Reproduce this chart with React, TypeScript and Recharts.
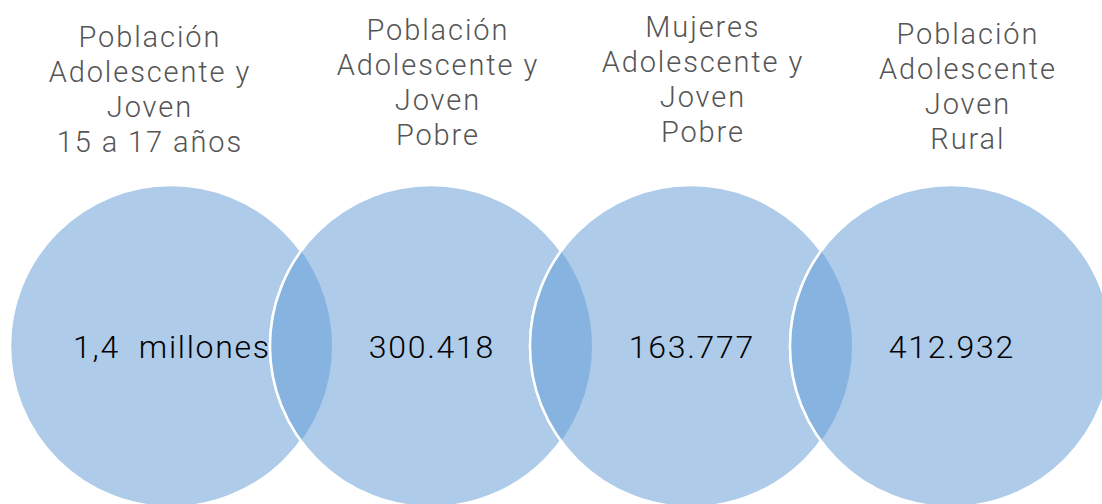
import React from 'react';
import { ScatterChart, Scatter, XAxis, YAxis, ZAxis } from 'recharts';

// one entry per circle, left to right
const groups = ['adolescentes', 'pobre', 'mujeres', 'rural'];

const titles = [
  ['Población', 'Adolescente y', 'Joven', '15 a 17 años'],
  ['Población', 'Adolescente y', 'Joven', 'Pobre'],
  ['Mujeres', 'Adolescente y', 'Joven', 'Pobre'],
  ['Población', 'Adolescente', 'Joven', 'Rural'],
];

const values = ['1,4  millones', '300.418', '163.777', '412.932'];

// small nudges so the headings sit like in the original slide [dx, first baseline]
const titleNudge = [
  [-22, 47],
  [6, 40],
  [11, 37],
  [16, 44],
];

const WIDTH = 1102;
const HEIGHT = 504;
const RADIUS = 161; // px
const STEP = 260; // px between circle centres
const FIRST = 171; // px, first centre

const FILL = '#aecbe9';
const LENS = '#86b3df';
const TITLE_COLOR = '#555555';
const FONT = 'Roboto, "Open Sans", sans-serif';

const xDomain = [-FIRST / STEP, (WIDTH - FIRST) / STEP];
const yDomain = [-1, 2.19];

const circleData = groups.map((g, i) => ({ name: g, x: i, y: 0, z: 1, idx: i }));
const lensData = circleData.slice(0, -1);
const outlineData = circleData.slice(1);

const radiusOf = (props: any) => (props.width ? props.width / 2 : RADIUS);

const CircleShape = (props: any) => {
  const { cx, cy, payload } = props;
  const r = radiusOf(props);
  return (
    <g>
      <defs>
        <clipPath id={`venn-clip-${payload.idx}`}>
          <circle cx={cx} cy={cy} r={r} />
        </clipPath>
      </defs>
      <circle cx={cx} cy={cy} r={r} fill={FILL} stroke="#ffffff" strokeWidth={2.5} />
    </g>
  );
};

// darker overlap: this circle clipped by the next one
const LensShape = (props: any) => {
  const { cx, cy, payload } = props;
  return (
    <circle
      cx={cx}
      cy={cy}
      r={radiusOf(props)}
      fill={LENS}
      clipPath={`url(#venn-clip-${payload.idx + 1})`}
    />
  );
};

// white edge of a circle where it runs through the previous one
const OutlineShape = (props: any) => {
  const { cx, cy, payload } = props;
  return (
    <circle
      cx={cx}
      cy={cy}
      r={radiusOf(props)}
      fill="none"
      stroke="#ffffff"
      strokeWidth={2.5}
      clipPath={`url(#venn-clip-${payload.idx - 1})`}
    />
  );
};

const TextShape = (props: any) => {
  const { cx, cy, payload } = props;
  const i = payload.idx;
  const [dx, top] = titleNudge[i];
  return (
    <g>
      <text
        textAnchor="middle"
        fontFamily={FONT}
        fontSize={29}
        fontWeight={300}
        letterSpacing={1.9}
        fill={TITLE_COLOR}
      >
        {titles[i].map((line, k) => (
          <tspan key={k} x={cx + dx + 0.9} y={top + k * 35}>
            {line}
          </tspan>
        ))}
      </text>
      <text
        x={cx + 0.9}
        y={cy + 11.5}
        textAnchor="middle"
        fontFamily={FONT}
        fontSize={32}
        fontWeight={300}
        letterSpacing={1.7}
        fill="#000000"
        style={{ whiteSpace: 'pre' }}
      >
        {values[i]}
      </text>
    </g>
  );
};

export default function App() {
  const area = Math.PI * RADIUS * RADIUS;
  return (
    <div style={{ position: 'absolute', left: 0, top: 0, background: '#fff' }}>
      <ScatterChart width={WIDTH} height={HEIGHT} margin={{ top: 0, right: 0, bottom: 0, left: 0 }}>
        <XAxis type="number" dataKey="x" domain={xDomain} hide />
        <YAxis type="number" dataKey="y" domain={yDomain} hide />
        <ZAxis type="number" dataKey="z" range={[area, area]} />
        <Scatter data={circleData} shape={CircleShape} isAnimationActive={false} />
        <Scatter data={lensData} shape={LensShape} isAnimationActive={false} />
        <Scatter data={outlineData} shape={OutlineShape} isAnimationActive={false} />
        <Scatter data={circleData} shape={TextShape} isAnimationActive={false} />
      </ScatterChart>
    </div>
  );
}
